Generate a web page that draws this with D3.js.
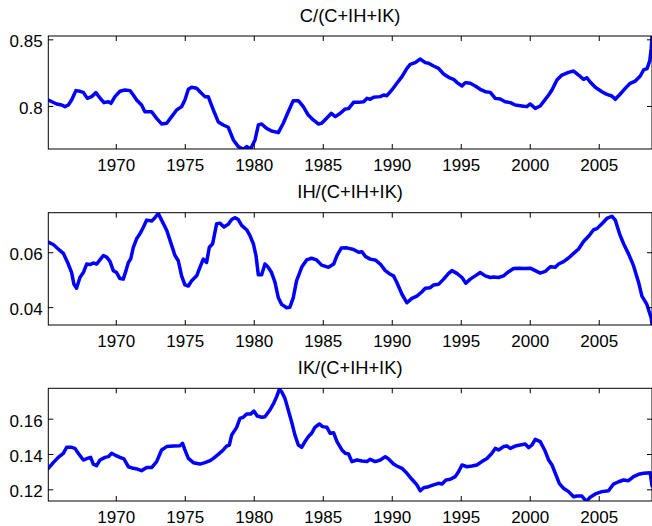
<!DOCTYPE html>
<html>
<head>
<meta charset="utf-8">
<script src="https://cdn.jsdelivr.net/npm/d3@7"></script>
<style>
  body { margin: 0; background: #fff; }
  svg text { font-family: "Liberation Sans", Arial, Helvetica, sans-serif; fill: #000; }
</style>
</head>
<body>
<script>
// ---- data ----
var titles = ["C/(C+IH+IK)", "IH/(C+IH+IK)", "IK/(C+IH+IK)"];
var xTicks = [1970, 1975, 1980, 1985, 1990, 1995, 2000, 2005];
var cTicks = [0.8, 0.85];
var ihTicks = [0.04, 0.06];
var ikTicks = [0.12, 0.14, 0.16];

var cYears = [1965.11,1965.71,1966.08,1966.32,1966.56,1966.80,1967.11,1967.40,1967.65,1967.94,1968.25,1968.56,1968.85,1969.14,1969.46,1969.65,1969.94,1970.30,1970.67,1971.03,1971.27,1971.51,1971.87,1972.11,1972.60,1972.96,1973.32,1973.69,1974.05,1974.41,1974.77,1975.01,1975.26,1975.50,1975.86,1976.10,1976.46,1976.70,1977.07,1977.43,1977.79,1978.15,1978.52,1978.88,1979.24,1979.48,1979.77,1980.09,1980.33,1980.57,1980.93,1981.29,1981.78,1982.14,1982.50,1982.86,1983.23,1983.59,1983.95,1984.31,1984.68,1984.92,
  1985.30,1985.62,1985.91,1986.27,1986.63,1986.87,1987.23,1987.60,1987.96,1988.20,1988.44,1988.68,1989.17,1989.41,1989.65,1990.01,1990.37,1990.74,1991.10,1991.34,1991.70,1992.07,1992.43,1992.67,1993.03,1993.39,1993.76,1994.12,1994.48,1994.72,1995.09,1995.33,1995.69,1996.05,1996.41,1996.78,1997.14,1997.50,1997.86,1998.22,1998.59,1998.95,1999.43,1999.79,2000.04,2000.40,2000.76,2001.00,2001.37,2001.61,2001.97,2002.33,2002.81,2003.18,2003.54,2003.90,2004.14,2004.38,2004.75,2005.23,2005.59,2005.95,2006.20,2006.56,2006.92,2007.28,2007.65,2008.01,2008.25,2008.50,2008.70,2008.80,2008.86];
var cVals = [0.8045,0.8015,0.8007,0.7995,0.8007,0.8045,0.8115,0.811,0.8102,0.8057,0.807,0.810,0.806,0.8025,0.8032,0.802,0.807,0.811,0.812,0.8115,0.8082,0.8045,0.8007,0.7957,0.7957,0.7907,0.7865,0.787,0.792,0.797,0.7995,0.8045,0.8125,0.814,0.8133,0.8107,0.807,0.807,0.797,0.788,0.7857,0.784,0.7745,0.7695,0.7675,0.7695,0.7677,0.7745,0.7857,0.7865,0.7832,0.7812,0.780,0.787,0.7957,0.804,0.804,0.7995,0.7932,0.7895,0.7865,0.787,
  0.791,0.7945,0.792,0.7945,0.7978,0.798,0.8027,0.8027,0.8032,0.8057,0.805,0.8065,0.807,0.8082,0.8077,0.812,0.817,0.822,0.8282,0.8312,0.8325,0.8352,0.8325,0.832,0.830,0.8282,0.824,0.8215,0.820,0.8177,0.815,0.8175,0.817,0.815,0.8125,0.8107,0.8102,0.8057,0.8052,0.8032,0.8025,0.8007,0.800,0.7995,0.8015,0.7982,0.800,0.8032,0.8082,0.812,0.8195,0.8232,0.8252,0.8262,0.8232,0.820,0.8212,0.818,0.814,0.8107,0.8087,0.8075,0.805,0.809,0.8132,0.817,0.8187,0.8225,0.827,0.828,0.834,0.843,0.852];

var ihYears = [1965.11,1965.47,1965.83,1966.20,1966.56,1966.80,1966.97,1967.16,1967.40,1967.65,1967.89,1968.13,1968.37,1968.61,1968.85,1969.10,1969.34,1969.58,1969.82,1970.06,1970.30,1970.54,1970.74,1970.91,1971.08,1971.27,1971.51,1971.75,1971.99,1972.24,1972.60,1972.84,1973.08,1973.32,1973.69,1974.05,1974.29,1974.53,1974.77,1975.01,1975.26,1975.50,1975.86,1976.10,1976.34,1976.58,1976.78,1977.02,1977.31,1977.55,1977.84,1978.15,1978.40,1978.64,1978.88,1979.12,1979.48,1979.72,1979.97,1980.16,1980.33,1980.57,1980.81,1981.05,1981.29,1981.54,1981.78,1982.02,1982.38,1982.62,1982.86,1983.10,1983.47,1983.83,1984.19,1984.55,1984.92,
  1985.42,1985.79,1986.03,1986.34,1986.75,1987.23,1987.60,1987.84,1988.08,1988.44,1988.80,1989.17,1989.53,1989.89,1990.13,1990.37,1990.74,1991.10,1991.46,1991.82,1992.19,1992.43,1992.79,1993.03,1993.39,1993.76,1994.12,1994.36,1994.72,1995.09,1995.37,1995.69,1996.05,1996.41,1996.78,1997.14,1997.38,1997.74,1998.10,1998.47,1998.83,1999.19,1999.67,2000.04,2000.40,2000.76,2001.12,2001.49,2001.85,2002.09,2002.45,2002.81,2003.18,2003.54,2003.90,2004.26,2004.63,2004.87,2005.23,2005.59,2005.95,2006.20,2006.51,2006.80,2007.16,2007.52,2007.89,2008.13,2008.49,2008.80,2008.86];
var ihVals = [0.0637,0.0628,0.0612,0.0596,0.0557,0.0526,0.0483,0.0469,0.0508,0.0526,0.0557,0.0555,0.0561,0.0557,0.0572,0.0588,0.0582,0.0567,0.0533,0.0526,0.0504,0.0502,0.0533,0.0563,0.0575,0.0618,0.0649,0.0667,0.0690,0.0717,0.0714,0.0726,0.0741,0.0717,0.0680,0.0625,0.0588,0.0569,0.0514,0.0481,0.0477,0.0496,0.0514,0.0545,0.0575,0.0563,0.0618,0.0631,0.0704,0.0706,0.0692,0.0702,0.0719,0.0726,0.0719,0.0698,0.0682,0.0661,0.0631,0.0588,0.0518,0.0518,0.0557,0.0545,0.0526,0.0490,0.0434,0.0410,0.0398,0.0400,0.0434,0.0496,0.0545,0.0572,0.0578,0.0572,0.0553,
  0.0545,0.0557,0.0588,0.0615,0.0616,0.061,0.060,0.0602,0.0585,0.0575,0.0572,0.0557,0.0533,0.052,0.0514,0.049,0.0447,0.0416,0.0432,0.0440,0.0456,0.0469,0.0471,0.0481,0.0483,0.0502,0.0523,0.0533,0.0523,0.0508,0.0487,0.0502,0.0514,0.0526,0.0514,0.0508,0.051,0.0508,0.0514,0.0529,0.0541,0.0542,0.0541,0.0542,0.0533,0.0524,0.053,0.0547,0.0545,0.0557,0.0566,0.0579,0.0596,0.0612,0.0639,0.0658,0.0682,0.0686,0.0704,0.0723,0.0731,0.0717,0.0667,0.0631,0.0594,0.0551,0.049,0.044,0.041,0.0361,0.0338];

var ikYears = [1965.11,1965.47,1965.83,1966.20,1966.44,1966.80,1967.04,1967.28,1967.65,1967.94,1968.18,1968.37,1968.61,1968.85,1969.22,1969.46,1969.70,1969.94,1970.30,1970.59,1970.91,1971.27,1971.56,1971.87,1972.24,1972.60,1972.96,1973.32,1973.69,1974.17,1974.65,1974.84,1975.01,1975.26,1975.62,1976.10,1976.46,1976.83,1977.07,1977.43,1977.79,1978.03,1978.23,1978.40,1978.76,1979.00,1979.24,1979.48,1979.77,1980.01,1980.25,1980.57,1980.81,1981.17,1981.46,1981.66,1981.85,1982.02,1982.26,1982.50,1982.74,1982.98,1983.23,1983.47,1983.71,1983.95,1984.19,1984.43,1984.75,1984.99,
  1985.30,1985.54,1985.79,1986.03,1986.39,1986.63,1986.87,1987.11,1987.48,1987.84,1988.20,1988.44,1988.80,1989.17,1989.53,1989.77,1990.13,1990.37,1990.74,1991.10,1991.46,1991.82,1992.07,1992.31,1992.67,1993.03,1993.39,1993.64,1993.93,1994.24,1994.60,1994.84,1995.09,1995.45,1995.81,1996.17,1996.53,1996.90,1997.26,1997.50,1997.74,1998.10,1998.35,1998.59,1998.95,1999.31,1999.67,1999.92,2000.16,2000.40,2000.76,2001.08,2001.37,2001.61,2001.85,2002.14,2002.45,2002.81,2003.18,2003.42,2003.78,2004.02,2004.14,2004.38,2004.75,2005.23,2005.71,2006.07,2006.44,2006.80,2007.16,2007.52,2007.89,2008.25,2008.73,2008.86];
var ikVals = [0.1319,0.1351,0.1381,0.1404,0.1438,0.1438,0.1432,0.1404,0.1366,0.1375,0.1381,0.1343,0.1334,0.1366,0.1381,0.1385,0.1404,0.1394,0.1381,0.1372,0.1328,0.1319,0.1315,0.1306,0.1323,0.1323,0.1357,0.1423,0.1442,0.1445,0.1447,0.146,0.1423,0.1375,0.1351,0.1343,0.1351,0.1362,0.1375,0.1398,0.1423,0.1445,0.1451,0.1508,0.1551,0.1602,0.1608,0.1626,0.1626,0.1643,0.1615,0.1608,0.1611,0.1649,0.169,0.1725,0.1766,0.1753,0.1715,0.1649,0.1583,0.1508,0.1451,0.1438,0.147,0.1498,0.1517,0.1551,0.157,0.1555,
  0.1551,0.1517,0.152,0.147,0.1423,0.1404,0.14,0.1357,0.1366,0.136,0.1357,0.137,0.1357,0.1366,0.1385,0.1372,0.1343,0.1332,0.1319,0.1291,0.1257,0.1225,0.1192,0.1209,0.1215,0.1225,0.1234,0.123,0.1253,0.1257,0.1272,0.13,0.1338,0.1328,0.1332,0.1338,0.1357,0.1375,0.1404,0.1432,0.1423,0.1442,0.1445,0.1432,0.1445,0.1451,0.1457,0.1436,0.1451,0.1483,0.147,0.1423,0.1366,0.1338,0.1291,0.1234,0.1206,0.1187,0.1158,0.1162,0.1162,0.114,0.1135,0.1155,0.1174,0.1187,0.1192,0.123,0.1243,0.1253,0.1249,0.1272,0.1285,0.1291,0.1294,0.122];

// axis limits (axis tight)
var xDomain = [1965.11, 2008.86];
var cDomain = [0.7677, 0.8525];
var ihDomain = [0.0335, 0.0744];
var ikDomain = [0.1134, 0.1772];

// ---- layout ----
var W = 652, H = 526;
var left = 48.3, right = 652;
var tickFont = 17, titleFont = 18.3;
var panels = [
  {title: titles[0], years: cYears, vals: cVals, dom: cDomain, ticks: cTicks, top: 36, bottom: 149},
  {title: titles[1], years: ihYears, vals: ihVals, dom: ihDomain, ticks: ihTicks, top: 212.7, bottom: 325},
  {title: titles[2], years: ikYears, vals: ikVals, dom: ikDomain, ticks: ikTicks, top: 388.3, bottom: 501}
];

var svg = d3.select("body").append("svg")
            .attr("width", W)
            .attr("height", H);

svg.append("rect").attr("width", W).attr("height", H).attr("fill", "#fff");

var x = d3.scaleLinear().domain(xDomain).range([left, right]);

panels.forEach(function(p, i){
  var y = d3.scaleLinear().domain(p.dom).range([p.bottom, p.top]);
  var g = svg.append("g").attr("class", "panel");

  g.append("clipPath").attr("id", "clip" + i)
    .append("rect")
      .attr("x", left).attr("y", p.top)
      .attr("width", right - left).attr("height", p.bottom - p.top);

  var pts = p.years.map(function(d, j){ return [d, p.vals[j]]; });
  var line = d3.line().x(d => x(d[0])).y(d => y(d[1]));

  g.append("path")
    .datum(pts)
    .attr("clip-path", "url(#clip" + i + ")")
    .attr("d", line)
    .attr("fill", "none")
    .attr("stroke", "#0000ff")
    .attr("stroke-width", 3.5)
    .attr("stroke-linejoin", "round")
    .attr("stroke-linecap", "round");

  // inward ticks on all four sides
  var xb = g.append("g").attr("transform", `translate(0,${p.bottom})`)
    .call(d3.axisBottom(x).tickValues(xTicks).tickFormat(d3.format("d"))
            .tickSizeInner(-5).tickSizeOuter(0).tickPadding(9.6));
  var xt = g.append("g").attr("transform", `translate(0,${p.top})`)
    .call(d3.axisTop(x).tickValues(xTicks).tickFormat("")
            .tickSizeInner(-5).tickSizeOuter(0));
  var yl = g.append("g").attr("transform", `translate(${left},0)`)
    .call(d3.axisLeft(y).tickValues(p.ticks).tickFormat(d3.format("~g"))
            .tickSizeInner(-5).tickSizeOuter(0).tickPadding(5.6));
  var yr = g.append("g").attr("transform", `translate(${right},0)`)
    .call(d3.axisRight(y).tickValues(p.ticks).tickFormat("")
            .tickSizeInner(-5).tickSizeOuter(0));

  [xb, xt, yl, yr].forEach(function(a){
    a.select(".domain").remove();
    a.selectAll("line").attr("stroke", "#000");
    a.selectAll("text").attr("font-size", tickFont)
      .style("font-family", "'Liberation Sans', Arial, sans-serif").attr("fill", "#000");
  });
  yl.selectAll("text").attr("dy", "0.44em");

  g.append("rect")
    .attr("x", left).attr("y", p.top)
    .attr("width", right - left).attr("height", p.bottom - p.top)
    .attr("fill", "none").attr("stroke", "#000").attr("stroke-width", 1);

  g.append("text")
    .attr("x", (left + right) / 2)
    .attr("y", p.top - 14.3)
    .attr("text-anchor", "middle")
    .attr("font-size", titleFont)
    .text(p.title);
});
</script>
</body>
</html>
